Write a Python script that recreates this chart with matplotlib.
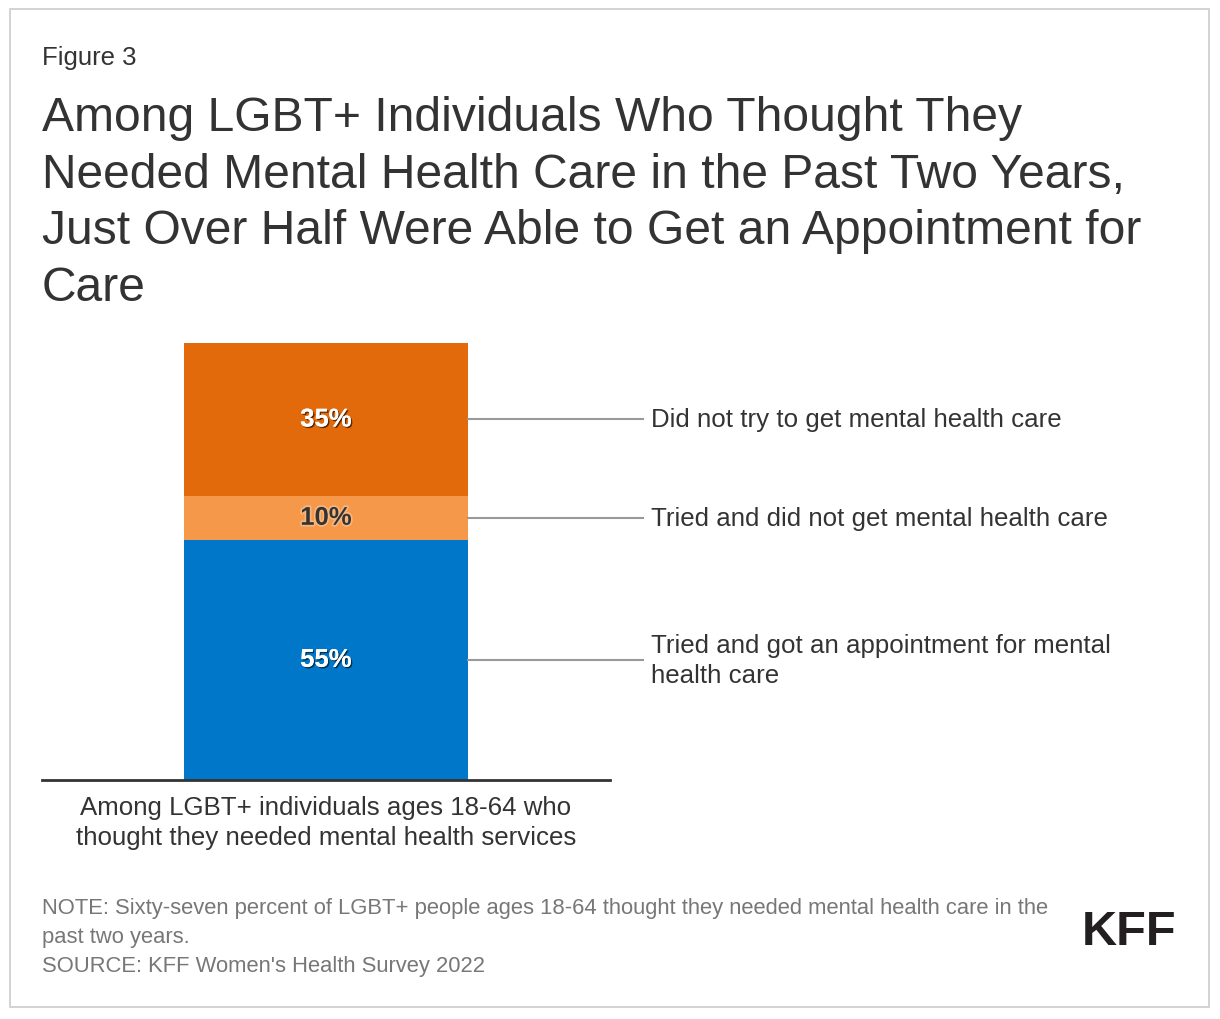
import matplotlib
matplotlib.use("Agg")
import matplotlib.pyplot as plt
import matplotlib.patheffects as pe
from matplotlib.patches import Rectangle

plt.rcParams["font.family"] = ["Liberation Sans", "DejaVu Sans"]

# data
categories = ["Tried and got an appointment for mental\nhealth care",
              "Tried and did not get mental health care",
              "Did not try to get mental health care"]
values = [55, 10, 35]
colors = ["#0077C8", "#F6984A", "#E36A0A"]
bar_label = "Among LGBT+ individuals ages 18-64 who\nthought they needed mental health services"

W, H = 1220, 1020
fig = plt.figure(figsize=(W / 100, H / 100), dpi=100)


def px(x, y):
    return x / W, 1 - y / H


# outer border
fig.patches.append(Rectangle(px(10, 1008), 1199 / W, 998 / H, transform=fig.transFigure,
                             fill=False, edgecolor="#cccccc", linewidth=1.2))

fig.text(*px(42, 58), "Figure 3", fontsize=18.5, color="#333333", va="center")
title = ("Among LGBT+ Individuals Who Thought They\n"
         "Needed Mental Health Care in the Past Two Years,\n"
         "Just Over Half Were Able to Get an Appointment for\n"
         "Care")
fig.text(*px(42, 96), title, fontsize=34.6, color="#333333", va="top", linespacing=1.33)

# axes: x 42..610, y 344..781
x0, y0 = px(42, 781)
x1, y1 = px(610, 344)
ax = fig.add_axes([x0, y0, x1 - x0, y1 - y0])
ax.set_xlim(0, 1)
ax.set_ylim(0, 100)
ax.axis("off")
ax.axhline(0, color="#333333", linewidth=2, clip_on=False)

bottom = 0
for cat, v, c in zip(categories, values, colors):
    ax.bar(0.5, v, width=0.5, bottom=bottom, color=c, linewidth=0)
    mid = bottom + v / 2
    if c == "#F6984A":
        txt = ax.text(0.5, mid, f"{v}%", ha="center", va="center", fontsize=18.5,
                      fontweight="bold", color="#333333")
        txt.set_path_effects([pe.withStroke(linewidth=2.5, foreground="#f7b57e")])
    else:
        txt = ax.text(0.5, mid, f"{v}%", ha="center", va="center", fontsize=18.5,
                      fontweight="bold", color="white")
        txt.set_path_effects([pe.withSimplePatchShadow(offset=(1, -1), shadow_rgbFace="black", alpha=0.6),
                              pe.Normal()])
    ax.plot([0.75, 1.058], [mid, mid], color="#999999", linewidth=1.5, clip_on=False)
    ax.text(1.072, mid, cat, ha="left", va="center", fontsize=18.6, color="#333333",
            linespacing=1.32)
    bottom += v

ax.text(0.5, -3.5, bar_label, ha="center", va="top", fontsize=18.6, color="#333333",
        linespacing=1.3)

note = ("NOTE: Sixty-seven percent of LGBT+ people ages 18-64 thought they needed mental health care in the\n"
        "past two years.\n"
        "SOURCE: KFF Women's Health Survey 2022")
fig.text(*px(42, 898), note, fontsize=15.8, color="#777777", va="top", linespacing=1.49)

fig.text(*px(1176, 933), "KFF", fontsize=35, fontweight="bold", color="#231f20",
         ha="right", va="center")

fig.savefig("out.png", dpi=100)
